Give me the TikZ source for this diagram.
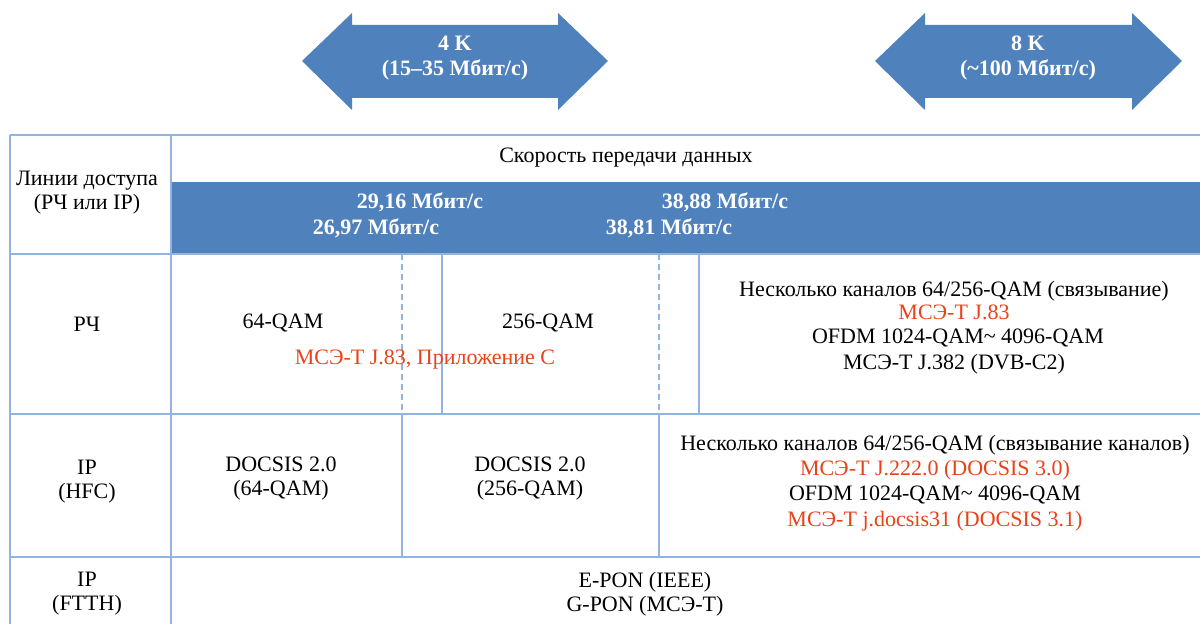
\documentclass[tikz,border=0pt]{standalone}
\usepackage{fontspec}
\setmainfont{Liberation Serif}
\usetikzlibrary{positioning}

\definecolor{bandblue}{RGB}{79,129,189}
\definecolor{gridblue}{RGB}{146,180,224}
\definecolor{refred}{RGB}{232,66,26}

\begin{document}
\begin{tikzpicture}[
x=0.5pt,y=-0.5pt,
every node/.style={
    inner sep=0pt,
    align=center,
    font=\fontsize{11}{12}\selectfont
},
gridline/.style={draw=gridblue,line width=1.4pt},
dashline/.style={gridline,dash pattern=on 3pt off 2pt},
bandtext/.style={text=white,font=\fontsize{11}{12.4}\selectfont\bfseries},
reftext/.style={text=refred}
]
\useasboundingbox (0,0) rectangle (1200,624);

% bandwidth arrows
\fill[bandblue] (302,61)--(352,13)--(352,25)--(558,25)--(558,13)--(608,61)
  --(558,110)--(558,98)--(352,98)--(352,110)--cycle;
\fill[bandblue] (875,61)--(925,13)--(925,25)--(1132,25)--(1132,13)--(1182,61)
  --(1132,110)--(1132,98)--(925,98)--(925,110)--cycle;
\node[bandtext] (fourk) at (455,58) {4 K\\(15--35 Мбит/с)};
\node[bandtext] (eightk) at (1028,58) {8 K\\(\textasciitilde100 Мбит/с)};

% rate band
\fill[bandblue] (171,182) rectangle (1200,254);

% grid
\draw[gridline] (10,135)--(1200,135);
\draw[gridline] (10,254)--(1200,254);
\draw[gridline] (10,414)--(1200,414);
\draw[gridline] (10,557)--(1200,557);
\draw[gridline] (10,135)--(10,624);
\draw[gridline] (171,135)--(171,624);
\draw[dashline] (402,254)--(402,414);
\draw[gridline] (442,254)--(442,414);
\draw[dashline] (659,254)--(659,414);
\draw[gridline] (699,254)--(699,414);
\draw[gridline] (402,414)--(402,557);
\draw[gridline] (659,414)--(659,557);

% header
\node (access) at (87,193) {Линии доступа\\(РЧ или IP)};
\node (rate) at (626,158) {Скорость передачи данных};
\node[bandtext] (r2916) at (420,202) {29,16 Мбит/с};
\node[bandtext] (r2697) at (376,228) {26,97 Мбит/с};
\node[bandtext] (r3888) at (725,202) {38,88 Мбит/с};
\node[bandtext] (r3881) at (669,228) {38,81 Мбит/с};

% RF row
\node (rf) at (87,324) {РЧ};
\node (qam64) at (283,323) {64-QAM};
\node (qam256) at (548,323) {256-QAM};
\node[reftext] (annexc) at (425,360) {МСЭ-Т J.83, Приложение С};
\node (rfmulti) at (954,291) {Несколько каналов 64/256-QAM (связывание)};
\node[reftext] (rfj83) at (954,312) {МСЭ-Т J.83};
\node (rfofdm) at (958,338) {OFDM 1024-QAM\textasciitilde\ 4096-QAM};
\node (rfj382) at (954,364) {МСЭ-Т J.382 (DVB-C2)};

% HFC row
\node (hfc) at (87,482) {IP\\(HFC)};
\node (docsis64) at (281,479) {DOCSIS 2.0\\(64-QAM)};
\node (docsis256) at (530,479) {DOCSIS 2.0\\(256-QAM)};
\node (hfcmulti) at (935,445) {Несколько каналов 64/256-QAM (связывание каналов)};
\node[reftext] (hfcj222) at (935,470) {МСЭ-Т J.222.0 (DOCSIS 3.0)};
\node (hfcofdm) at (935,495) {OFDM 1024-QAM\textasciitilde\ 4096-QAM};
\node[reftext] (hfcdocsis31) at (935,521) {МСЭ-Т j.docsis31 (DOCSIS 3.1)};

% FTTH row
\node (ftth) at (87,594) {IP\\(FTTH)};
\node (pon) at (645,594) {E-PON (IEEE)\\G-PON (МСЭ-Т)};

\end{tikzpicture}
\end{document}
